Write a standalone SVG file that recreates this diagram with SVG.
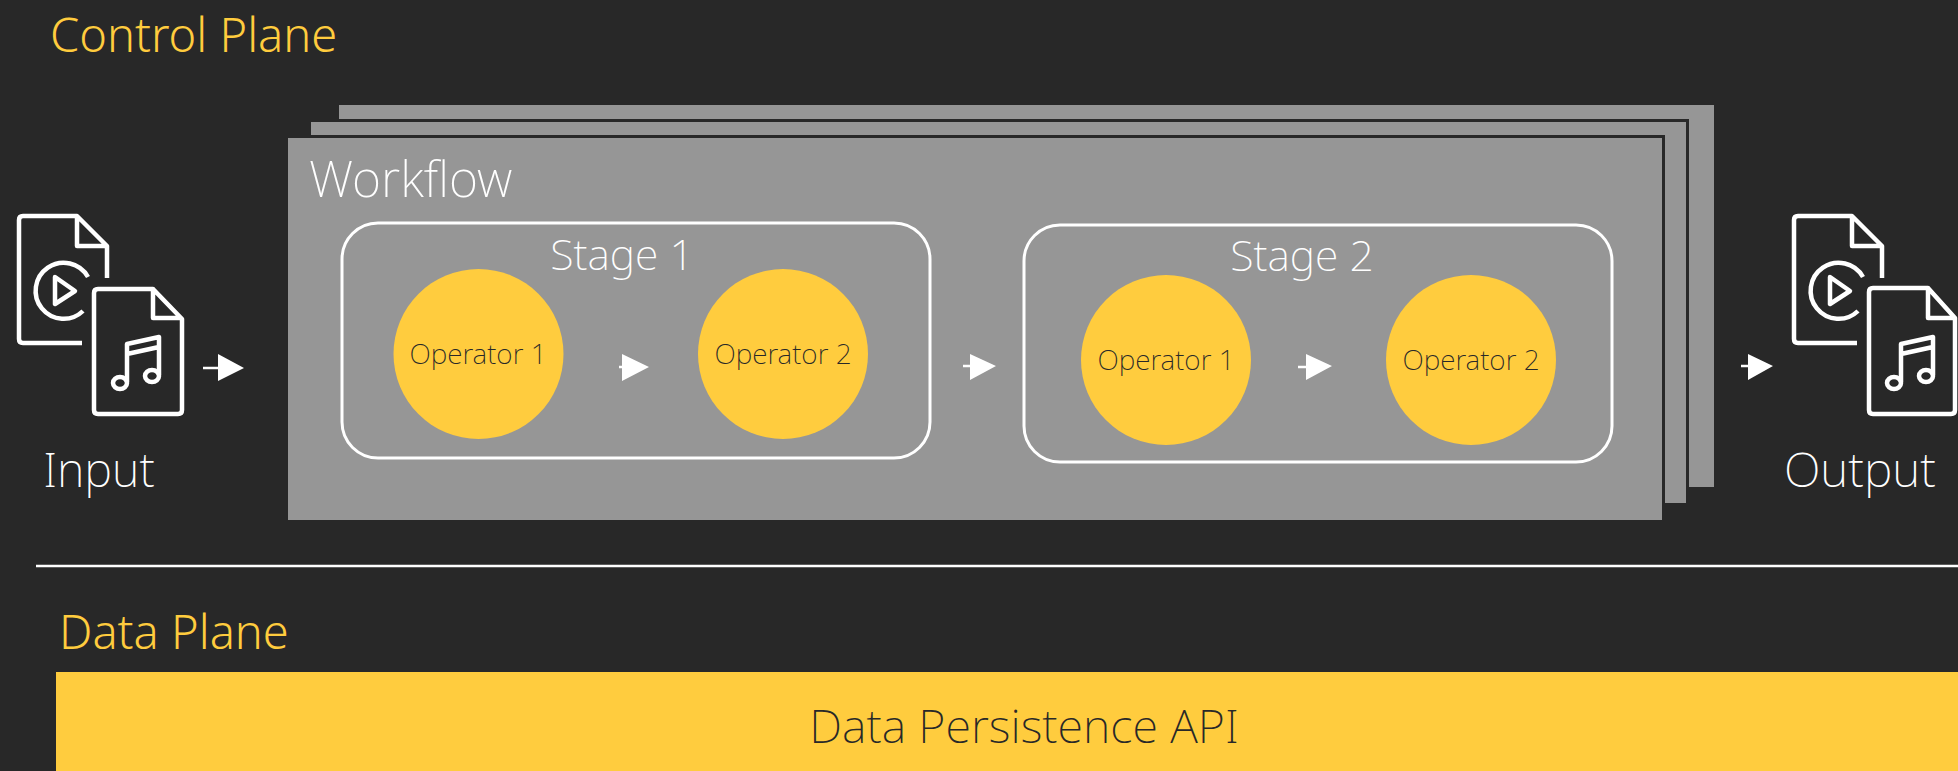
<svg xmlns="http://www.w3.org/2000/svg" width="1958" height="771" viewBox="0 0 1958 771">
<style>
text{font-family:"Noto Sans","Open Sans","Liberation Sans",sans-serif}
.sheet{fill:#969696}
.edge{fill:none;stroke:#282828;stroke-width:3}
.stage{fill:none;stroke:#fff;stroke-width:3}
.op{fill:#ffcc3e}
.opt{font-size:28px;font-weight:200;fill:#282828;text-anchor:middle}
.st{font-size:42.800px;font-weight:200;fill:#fff;text-anchor:middle}
.lab{font-size:47px;font-weight:200;fill:#fff;text-anchor:middle}
.plane{font-size:47px;font-weight:300;fill:#ffcc3e}
.ic{fill:none;stroke:#fff;stroke-width:4.500;stroke-linejoin:round;stroke-linecap:butt}
.ah{fill:#fff}
.al{stroke:#fff;stroke-width:2.500}
</style>
<defs>
<g id="doc-video">
<path class="ic" d="M107 278V246L77 216H23Q19 216 19 220V339Q19 343 23 343H82M77 216V246H107"/>
<path class="ic" d="M88 277A28 28 0 1 0 83 311"/>
<path class="ic" d="M55 277L75 291L55 304Z"/>
</g>
<g id="note">
<path class="ic" d="M127 382V344L159 337V375M127 354L159 347"/>
<ellipse class="ic" cx="120" cy="383" rx="7" ry="6"/>
<ellipse class="ic" cx="152" cy="376" rx="7" ry="6"/>
</g>
</defs>
<rect width="1958" height="771" fill="#282828"/>
<text id="control-plane" class="plane" x="50" y="52">Control Plane</text>
<g id="workflow-back"><rect class="sheet" x="339" y="105" width="1375" height="382"/></g>
<g id="workflow-mid"><rect class="sheet" x="311" y="122" width="1376" height="381"/><path class="edge" d="M311 120.500H1687.500V503"/></g>
<g id="workflow"><rect class="sheet" x="288" y="138" width="1374" height="382"/><path class="edge" d="M288 136.500H1663.500V520"/>
<text class="lab" x="309" y="197" style="text-anchor:start;font-size:50px">Workflow</text></g>
<g id="stage-1"><rect class="stage" x="342" y="223" width="588" height="235" rx="36"/><text class="st" x="622" y="270">Stage 1</text></g>
<g id="stage-2"><rect class="stage" x="1024" y="225" width="588" height="237" rx="36"/><text class="st" x="1302" y="271">Stage 2</text></g>
<g id="s1-op1"><circle class="op" cx="478.500" cy="354" r="85"/><text class="opt" x="478" y="364">Operator 1</text></g>
<g id="s1-op2"><circle class="op" cx="783" cy="354" r="85"/><text class="opt" x="783" y="364">Operator 2</text></g>
<g id="s2-op1"><circle class="op" cx="1166" cy="360" r="85"/><text class="opt" x="1166" y="370">Operator 1</text></g>
<g id="s2-op2"><circle class="op" cx="1471" cy="360" r="85"/><text class="opt" x="1471" y="370">Operator 2</text></g>
<g id="input"><use href="#doc-video"/><path class="ic" d="M153 289L182 319V410Q182 414 178 414H98Q94 414 94 410V293Q94 289 98 289H153V318H182"/><use href="#note"/><text class="lab" x="99" y="487">Input</text></g>
<g id="output"><use href="#doc-video" x="1775"/><path class="ic" d="M1928 288L1955 318V410Q1955 414 1951 414H1873Q1869 414 1869 410V292Q1869 288 1873 288H1928V318H1955"/><use href="#note" x="1774"/><text class="lab" x="1860" y="487" style="font-size:48px">Output</text></g>
<g id="connectors">
<path class="al" d="M203 368H220M619 367H624M963 366H972M1298 367H1307M1741 366H1750"/>
<path class="ah" d="M218 354L244 368L218 381ZM622 354L649 367L622 381ZM970 354L996 366L970 380ZM1306 354L1332 366L1306 380ZM1748 354L1773 366L1748 380Z"/>
</g>
<line id="divider" x1="36" y1="566" x2="1958" y2="566" stroke="#fff" stroke-width="2.500"/>
<text id="data-plane" class="plane" x="59" y="649">Data Plane</text>
<g id="data-persistence"><rect class="op" x="56" y="672" width="1902" height="99"/><text x="1024" y="743" text-anchor="middle" font-size="46.800" font-weight="200" fill="#282828">Data Persistence API</text></g>
</svg>
